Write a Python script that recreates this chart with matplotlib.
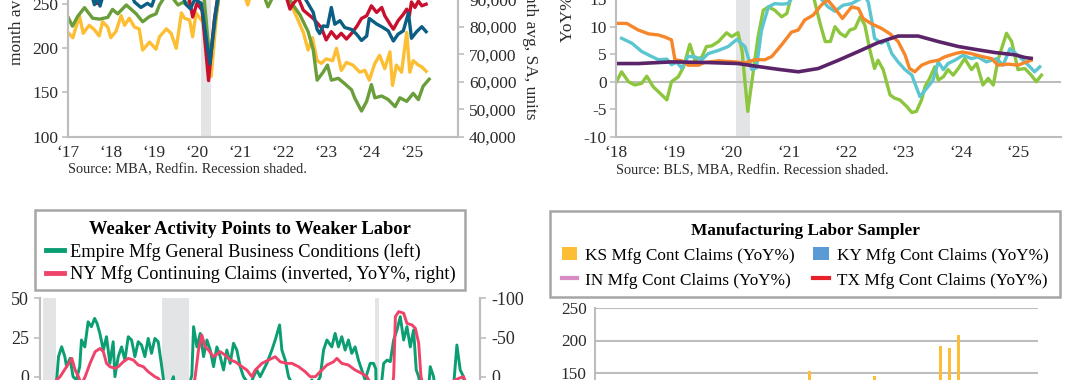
import numpy as np
import pandas as pd
import matplotlib
matplotlib.use("Agg")
import matplotlib.pyplot as plt
from matplotlib.patches import Rectangle
from matplotlib.ticker import FuncFormatter

plt.rcParams['font.family'] = ['Liberation Serif', 'DejaVu Serif']
plt.rcParams['axes.unicode_minus'] = False

W, H = 1080, 380
GRAY = '#BDBDBD'
TXT = '#2b2b2b'
SHADE = '#E3E4E6'

# ---------------- top left: MBA / Redfin (decimal years) ----------------
tl_green_t = [2017.00, 2017.11, 2017.23, 2017.39, 2017.58, 2017.74, 2017.93, 2018.04, 2018.16, 2018.36,
              2018.59, 2018.74, 2018.90, 2019.05, 2019.13, 2019.30, 2019.45, 2019.56, 2019.67, 2019.78,
              2019.90, 2020.05, 2020.17, 2020.30, 2020.45, 2020.60, 2020.80, 2021.00, 2021.20, 2021.40,
              2021.55, 2021.65, 2021.80, 2022.00, 2022.12, 2022.23, 2022.39, 2022.58, 2022.70, 2022.79,
              2022.93, 2023.03, 2023.12, 2023.28, 2023.43, 2023.59, 2023.66, 2023.82, 2023.94, 2024.05,
              2024.13, 2024.29, 2024.44, 2024.60, 2024.71, 2024.87, 2025.02, 2025.14, 2025.25, 2025.39]
tl_green_v = [236, 225, 236, 246, 234, 233, 235, 244, 239, 249,
              239, 230, 236, 239, 249, 262, 256, 249, 252, 249,
              262, 270, 255, 185, 240, 285, 300, 295, 280, 270,
              260, 247, 262, 268, 258, 249, 238, 219, 198, 164,
              173, 181, 164, 166, 160, 153, 144, 129, 140, 159,
              144, 146, 142, 134, 144, 140, 149, 142, 157, 165]

tl_yellow_t = [2017.02, 2017.12, 2017.27, 2017.36, 2017.50, 2017.62, 2017.73, 2017.81, 2017.93, 2018.00,
               2018.12, 2018.24, 2018.32, 2018.43, 2018.55, 2018.66, 2018.74, 2018.90, 2019.05, 2019.13,
               2019.29, 2019.40, 2019.52, 2019.64, 2019.71, 2019.83, 2019.90, 2019.98, 2020.10, 2020.20,
               2020.33, 2020.45, 2020.55, 2020.75, 2021.00, 2021.18, 2021.30, 2021.60, 2021.90, 2022.16,
               2022.31, 2022.47, 2022.58, 2022.68, 2022.79, 2022.89, 2023.00, 2023.15, 2023.24, 2023.35,
               2023.47, 2023.62, 2023.78, 2023.90, 2024.00, 2024.13, 2024.24, 2024.36, 2024.48, 2024.54,
               2024.63, 2024.75, 2024.87, 2024.94, 2025.02, 2025.14, 2025.22, 2025.32]
tl_yellow_v = [217, 212, 237, 217, 226, 221, 214, 230, 224, 212,
               219, 237, 226, 234, 224, 222, 198, 207, 199, 213,
               222, 217, 200, 240, 234, 232, 213, 240, 232, 228,
               168, 235, 275, 290, 275, 249, 270, 275, 268, 252,
               236, 218, 198, 212, 186, 183, 188, 186, 200, 175,
               184, 181, 173, 175, 164, 183, 192, 177, 196, 158,
               181, 173, 218, 173, 186, 181, 179, 174]

tl_red_t = [2017.00, 2017.40, 2017.60, 2017.68, 2017.78, 2018.20, 2018.80, 2019.40, 2019.80, 2019.90,
            2020.00, 2020.12, 2020.27, 2020.40, 2020.55, 2021.00, 2021.50, 2021.90, 2022.08, 2022.16,
            2022.23, 2022.35, 2022.47, 2022.70, 2022.89, 2023.00, 2023.12, 2023.24, 2023.35, 2023.47,
            2023.59, 2023.71, 2023.82, 2023.94, 2024.05, 2024.17, 2024.29, 2024.36, 2024.48, 2024.56,
            2024.67, 2024.79, 2024.87, 2024.93, 2024.98, 2025.06, 2025.14, 2025.22, 2025.32]
tl_red_v = [95000, 93000, 91000, 88400, 93500, 96000, 94000, 97000, 92000, 83500,
            88500, 86000, 60400, 82000, 98000, 102000, 99000, 93000, 90500, 86400,
            88300, 90500, 86000, 83000, 79600, 75200, 78200, 75800, 77600, 75500,
            77600, 80100, 83000, 84000, 87600, 85200, 87000, 84000, 81000, 79100,
            82200, 84500, 86400, 84000, 89000, 87000, 89300, 87600, 88200]

tl_blue_t = [2017.00, 2017.55, 2017.62, 2017.70, 2017.75, 2017.85, 2018.40, 2018.55, 2018.70, 2018.85,
             2018.95, 2019.05, 2019.60, 2019.75, 2019.85, 2019.95, 2020.10, 2020.30, 2020.42, 2020.55,
             2021.00, 2021.50, 2022.00, 2022.40, 2022.54, 2022.70, 2022.79, 2022.85, 2022.93, 2023.03,
             2023.12, 2023.20, 2023.32, 2023.43, 2023.59, 2023.71, 2023.82, 2023.94, 2024.00, 2024.17,
             2024.32, 2024.44, 2024.56, 2024.67, 2024.79, 2024.91, 2024.98, 2025.10, 2025.22, 2025.32]
tl_blue_v = [97000, 92000, 88000, 90500, 87500, 93000, 95000, 89000, 87000, 88500,
             87500, 92000, 94000, 88000, 86500, 90000, 88500, 66500, 84000, 97000,
             101000, 98000, 96000, 93000, 89500, 85200, 79000, 77500, 80300, 80000,
             87000, 80900, 82200, 79700, 79000, 77200, 75000, 76600, 83000, 81000,
             79700, 78500, 74800, 77300, 78500, 85000, 75800, 78200, 80000, 78200]

# ---------------- top right: YoY% ----------------
tr_orange_t = [2018.00, 2018.18, 2018.38, 2018.56, 2018.73, 2018.85, 2018.96, 2019.02, 2019.14, 2019.25,
               2019.43, 2019.54, 2019.78, 2020.07, 2020.24, 2020.41, 2020.59, 2020.71, 2020.88, 2021.05,
               2021.17, 2021.28, 2021.43, 2021.57, 2021.68, 2021.81, 2021.94, 2022.10, 2022.22, 2022.30,
               2022.45, 2022.62, 2022.77, 2022.91, 2023.03, 2023.11, 2023.20, 2023.32, 2023.46, 2023.61,
               2023.72, 2023.90, 2024.03, 2024.19, 2024.36, 2024.54, 2024.65, 2024.83, 2025.00, 2025.15,
               2025.23]
tr_orange_v = [10.6, 10.6, 9.4, 8.7, 8.5, 8.1, 7.6, 4.0, 3.8, 3.0,
               3.0, 3.5, 3.8, 3.6, 3.4, 4.0, 4.0, 4.6, 6.7, 9.0,
               9.4, 11.2, 12.1, 13.9, 14.9, 13.3, 11.5, 13.6, 13.3, 11.5,
               10.5, 9.7, 8.7, 7.3, 4.9, 2.4, 1.8, 3.0, 3.6, 3.9,
               4.5, 5.1, 5.4, 5.1, 4.6, 4.2, 3.0, 3.2, 3.0, 3.6,
               3.9]

tr_cyan_t = [2018.09, 2018.27, 2018.44, 2018.61, 2018.73, 2018.88, 2018.96, 2019.05, 2019.14, 2019.25,
             2019.37, 2019.49, 2019.60, 2019.78, 2019.95, 2020.10, 2020.24, 2020.36, 2020.44, 2020.53,
             2020.65, 2020.76, 2020.88, 2020.99, 2021.08, 2021.25, 2021.45, 2021.69, 2021.81, 2021.95,
             2022.10, 2022.33, 2022.39, 2022.45, 2022.50, 2022.62, 2022.71, 2022.80, 2022.91, 2023.03,
             2023.15, 2023.29, 2023.41, 2023.52, 2023.61, 2023.70, 2023.78, 2023.90, 2024.04, 2024.19,
             2024.30, 2024.45, 2024.63, 2024.74, 2024.86, 2025.00, 2025.18, 2025.29, 2025.38]
tr_cyan_v = [7.9, 7.0, 5.5, 4.6, 4.0, 4.1, 3.1, 3.5, 2.5, 4.6,
             4.5, 4.0, 5.1, 5.7, 6.4, 7.7, 6.4, 2.2, 2.5, 9.4,
             13.6, 14.2, 14.1, 14.2, 15.5, 17.0, 16.5, 13.6, 12.8, 13.9,
             14.2, 15.5, 14.5, 11.2, 7.9, 7.0, 7.6, 5.1, 3.6, 2.2,
             1.2, -2.7, -1.2, 0.3, 3.6, 2.2, 3.3, 3.9, 4.8, 4.2,
             4.5, 3.6, 4.2, 3.0, 6.0, 4.8, 3.0, 1.8, 2.7]

tr_green_t = [2018.00, 2018.09, 2018.21, 2018.32, 2018.44, 2018.53, 2018.64, 2018.76, 2018.88, 2018.96,
              2019.08, 2019.17, 2019.28, 2019.37, 2019.49, 2019.57, 2019.66, 2019.78, 2019.92, 2020.01,
              2020.12, 2020.19, 2020.29, 2020.39, 2020.47, 2020.56, 2020.65, 2020.76, 2020.88, 2020.97,
              2021.10, 2021.25, 2021.40, 2021.55, 2021.64, 2021.73, 2021.81, 2021.90, 2021.99, 2022.07,
              2022.16, 2022.25, 2022.33, 2022.42, 2022.50, 2022.56, 2022.65, 2022.77, 2022.85, 2022.94,
              2023.06, 2023.15, 2023.23, 2023.32, 2023.38, 2023.46, 2023.55, 2023.61, 2023.70, 2023.78,
              2023.87, 2023.96, 2024.07, 2024.19, 2024.28, 2024.39, 2024.48, 2024.57, 2024.65, 2024.80,
              2024.89, 2025.00, 2025.12, 2025.23, 2025.32, 2025.41]
tr_green_v = [0.0, 1.8, 0.0, -0.6, -0.3, 1.0, -0.9, -2.1, -3.3, 0.0,
              0.9, 2.7, 6.8, 3.9, 4.5, 6.4, 6.5, 7.3, 8.9, 8.2,
              8.9, 5.7, -5.4, 2.2, 8.2, 13.0, 13.6, 13.0, 11.8, 12.4,
              17.5, 19.0, 17.0, 10.6, 7.3, 7.3, 10.0, 8.8, 8.2, 9.4,
              9.7, 11.8, 10.3, 5.7, 2.4, 3.9, 2.2, -2.4, -3.0, -3.3,
              -4.5, -5.6, -5.4, -3.3, -0.9, 0.6, 2.7, 0.3, 0.9, 2.2,
              1.2, 2.4, 4.2, 2.2, 3.3, -0.6, 0.6, -0.6, 3.9, 8.8,
              7.3, 2.2, 2.4, 1.2, 0.0, 1.2]

tr_purple_t = [2018.00, 2018.38, 2018.96, 2019.54, 2020.12, 2020.41, 2020.82, 2021.17, 2021.52, 2021.87,
               2022.22, 2022.56, 2022.91, 2023.26, 2023.61, 2023.96, 2024.30, 2024.60, 2024.94, 2025.12,
               2025.23]
tr_purple_v = [3.3, 3.3, 3.6, 3.5, 3.3, 2.85, 2.25, 1.8, 2.4, 3.9,
               5.5, 7.1, 8.3, 8.3, 7.3, 6.4, 5.8, 5.3, 4.9, 4.4,
               4.25]

# ---------------- bottom left: Empire vs NY claims ----------------
bl_green_t = [2001.55, 2001.70, 2001.85, 2001.95, 2002.04, 2002.22, 2002.40, 2002.50, 2002.70, 2002.87,
              2003.06, 2003.25, 2003.35, 2003.54, 2003.73, 2003.92, 2004.10, 2004.24, 2004.40, 2004.60,
              2004.78, 2004.97, 2005.16, 2005.26, 2005.45, 2005.64, 2005.83, 2006.02, 2006.21, 2006.40,
              2006.59, 2006.78, 2006.97, 2007.16, 2007.35, 2007.54, 2007.73, 2007.92, 2008.01, 2008.20,
              2008.45, 2008.60, 2008.80, 2009.00, 2009.20, 2009.45, 2009.65, 2009.75, 2009.94, 2010.13,
              2010.32, 2010.51, 2010.70, 2010.89, 2011.08, 2011.27, 2011.46, 2011.65, 2011.84, 2012.03,
              2012.22, 2012.41, 2012.60, 2012.79, 2013.00, 2013.17, 2013.36, 2013.55, 2013.93, 2014.22,
              2014.41, 2014.66, 2014.79, 2014.98, 2015.17, 2015.40, 2015.70, 2016.00, 2016.30, 2016.50,
              2016.70, 2016.98, 2017.17, 2017.36, 2017.64, 2017.83, 2018.02, 2018.21, 2018.40, 2018.59,
              2018.78, 2018.97, 2019.16, 2019.35, 2019.54, 2019.83, 2020.02, 2020.15, 2020.28, 2020.40,
              2020.50, 2020.60, 2020.80, 2020.98, 2021.17, 2021.36, 2021.55, 2021.74, 2021.93, 2022.12,
              2022.31, 2022.46, 2022.60, 2022.80, 2023.00, 2023.15, 2023.26, 2023.45, 2023.60, 2023.90,
              2024.10, 2024.30, 2024.60, 2024.78, 2024.97, 2025.16, 2025.25]
bl_green_v = [-3, -15, -8, 0, 12.8, 19.1, 12.8, 6.4, 11.7, 0,
              -2, 6.4, 23.4, 19, 35, 31.9, 37.2, 34, 27.6, 17,
              25.5, 8.5, 22.3, 0, 12.8, 19, 10.6, 25.5, 23.4, 12.8,
              22.3, 20.2, 12.8, 24.4, 14.9, 24.4, 22.3, 7.4, 0, -20,
              -5, 0, -25, -35, -30, -8, 1, 31.9, 19, 27.6,
              12.8, 23.4, 17, 6.4, 19, 12.8, 4.3, 17, 8.5, 21.3,
              17, 6.4, 0, -3, -5, 0, 4.3, 0, 8.5, 17,
              23.4, 33, 17, 10.6, 0, -5, -12, -18, -5, -2,
              -6, 0, 17, 23.4, 19, 27.6, 19, 25.5, 17, 23.4,
              14.9, 19, 10.6, 4.3, -2, 8.5, 8.5, 5, -75, -45,
              -2, 8.5, 10.6, 9.6, 23.4, 29.8, 38.3, 23.4, 31.9, 19,
              29.8, 4.3, 0, -15, -30, -10, 6.4, 0, -15, -20,
              -40, -15, -5, 20.2, 4.3, 0, -20]

bl_red_t = [2001.90, 2002.13, 2002.50, 2002.80, 2002.99, 2003.18, 2003.35, 2003.56, 2003.84, 2004.13,
            2004.41, 2004.60, 2004.78, 2004.97, 2005.26, 2005.45, 2005.74, 2006.02, 2006.31, 2006.59,
            2006.88, 2007.16, 2007.54, 2007.73, 2008.00, 2008.50, 2008.90, 2009.20, 2009.50, 2009.70,
            2009.84, 2010.03, 2010.22, 2010.41, 2010.60, 2010.89, 2011.27, 2011.55, 2011.84, 2012.13,
            2012.51, 2012.79, 2013.08, 2013.27, 2013.65, 2014.03, 2014.41, 2014.70, 2015.08, 2015.36,
            2015.74, 2016.12, 2016.41, 2016.70, 2016.98, 2017.36, 2017.74, 2017.93, 2018.21, 2018.59,
            2018.97, 2019.35, 2019.64, 2019.90, 2020.20, 2020.35, 2020.60, 2020.90, 2021.10, 2021.17,
            2021.27, 2021.46, 2021.74, 2021.93, 2022.22, 2022.41, 2022.60, 2022.73, 2022.90, 2023.30,
            2023.80, 2024.20, 2024.60, 2024.90, 2025.16, 2025.30]
bl_red_v = [5, 0, -12.8, -23.4, -8.5, 0, 10, 0, -17, -31.9,
            -36, -31.9, -17, -12.8, -10.6, -12.8, -19, -23.4, -21.3, -14.9,
            -12.8, -6.4, 0, 2, 10, 25, 70, 110, 80, 20,
            0, -34, -53.2, -38.3, -34, -25.5, -31.9, -27.6, -21.3, -19,
            -12.8, -8.5, 0, -8.5, -17, -21.3, -25.5, -19, -17, -17,
            -12.8, -6.4, 0, 0, -6.4, -14.9, -19, -23.4, -17, -14.9,
            -8.5, -4.3, 0, 10, 20, 250, 180, 80, 10, 0,
            -76.6, -83, -81, -68, -66, -61.7, -42.6, 0, 15, 30,
            20, 25, 5, 2, 0, 8]

bl_recessions = [(2001.17, 2001.92), (2007.92, 2009.50), (2020.08, 2020.33)]

# ---------------- bottom right: manufacturing claims sampler (monthly, Sep 2021 on) ----------------
br_months = pd.date_range("2021-09-01", "2025-04-01", freq="MS")
br_ks = [-45, -52, -48, -40, -30, -25, -20, -10, 5, 12,
         20, 35, 40, 55, 48, 60, 75, 90, 110, 95,
         120, 130, 115, 152, 98, 85, 70, 60, 88, 105,
         145, 80, 60, 45, 70, 90, 110, 192, 189, 208,
         60, 40, 25, 10]
br_ky = [-30, -35, -28, -20, -25, -15, -10, -5, 0, 8,
         15, 10, 20, 25, 18, 30, 22, 35, 28, 40,
         32, 25, 38, 45, 30, 20, 28, 35, 40, 30,
         25, 18, 22, 30, 26, 35, 40, 45, 38, 30,
         25, 20, 28, 22]
br_in = [-20, -25, -22, -18, -15, -10, -8, -5, 0, 5,
         8, 12, 10, 15, 18, 20, 25, 22, 28, 30,
         26, 24, 30, 35, 32, 28, 25, 22, 20, 24,
         28, 30, 26, 22, 25, 30, 35, 40, 38, 32,
         28, 25, 22, 20]
br_tx = [-40, -38, -35, -30, -28, -25, -20, -15, -10, -8,
         -5, 0, 5, 8, 10, 12, 15, 18, 16, 20,
         22, 18, 15, 20, 25, 22, 18, 15, 12, 15,
         18, 20, 22, 18, 15, 12, 10, 14, 16, 12,
         10, 8, 12, 15]


def box(x0, x1, ytop, ybot):
    return [x0 / W, (H - ybot) / H, (x1 - x0) / W, (ybot - ytop) / H]


def style_spines(ax, show):
    for side, sp in ax.spines.items():
        sp.set_visible(side in show)
        sp.set_color(GRAY)
        sp.set_linewidth(1.5)


def legend_frame(x0, x1, ytop, ybot):
    # white box with grey border behind a frameless legend
    b = box(x0, x1, ytop, ybot)
    fig.patches.append(Rectangle((b[0], b[1]), b[2], b[3], transform=fig.transFigure,
                                 facecolor='white', edgecolor='#A6A6A6', lw=1.8, zorder=5))


fig = plt.figure(figsize=(W / 100, H / 100), dpi=100)

yr_ticks = list(range(2017, 2026))
yr_fmt = FuncFormatter(lambda v, p: '\u2018%02d' % (int(round(v)) % 100))

# ---- top left ----
ax1 = fig.add_axes(box(67.7, 458, -40.1, 136.7))
ax1.set_xlim(2017.0, 2026.06)
ax1.set_ylim(100, 300)
ax1.axvspan(2020.083, 2020.333, color=SHADE, lw=0, zorder=0)
ax1.plot(tl_yellow_t, tl_yellow_v, color='#FDBE34', lw=2.4)
ax1.plot(tl_green_t, tl_green_v, color='#6A9E3A', lw=2.4)
ax1r = ax1.twinx()
ax1r.set_ylim(40000, 104300)
ax1r.plot(tl_red_t, tl_red_v, color='#C8102E', lw=2.4)
ax1r.plot(tl_blue_t, tl_blue_v, color='#0B5E84', lw=2.4)
ax1.set_yticks([100, 150, 200, 250, 300])
ax1r.set_yticks(range(40000, 100001, 10000))
ax1r.yaxis.set_major_formatter(FuncFormatter(lambda v, p: f'{int(v):,}'))
ax1.set_xticks(yr_ticks)
ax1.xaxis.set_major_formatter(yr_fmt)
for a in (ax1, ax1r):
    style_spines(a, ('left', 'bottom', 'right'))
    a.tick_params(axis='y', length=4, width=1.2, color=GRAY, labelsize=12.5, labelcolor=TXT, pad=2.5)
    a.tick_params(axis='x', length=0, labelsize=12.5, labelcolor=TXT, pad=6)
ax1r.tick_params(axis='y', pad=4)
fig.text(17.5 / W, 1 - 65 / H, 'month avg, SA, index', rotation=90, ha='center', va='bottom',
         fontsize=12.5, color=TXT)
fig.text(530 / W, 1 - 120 / H, 'Pending home sales, 3-month avg, SA, units', rotation=270,
         ha='center', va='bottom', fontsize=12.5, color=TXT)
fig.text(68 / W, 1 - 170 / H, 'Source: MBA, Redfin. Recession shaded.', ha='left', va='center',
         fontsize=10.4, color=TXT)

# ---- top right ----
ax2 = fig.add_axes(box(616.4, 1061, 81.7 - 20 * 5.5, 136.7))
ax2.set_xlim(2018.0, 2025.75)
ax2.set_ylim(-10, 20)
ax2.axvspan(2020.083, 2020.333, color=SHADE, lw=0, zorder=0)
ax2.axhline(0, color=GRAY, lw=1.5, zorder=1)
ax2.plot(tr_green_t, tr_green_v, color='#8CC63E', lw=2.4)
ax2.plot(tr_cyan_t, tr_cyan_v, color='#5CC6D0', lw=2.4)
ax2.plot(tr_orange_t, tr_orange_v, color='#F7862A', lw=2.4)
ax2.plot(tr_purple_t, tr_purple_v, color='#5B2468', lw=2.6)
ax2.set_yticks([-10, -5, 0, 5, 10, 15, 20])
ax2.set_xticks(list(range(2018, 2026)))
ax2.xaxis.set_major_formatter(yr_fmt)
style_spines(ax2, ('left', 'bottom'))
ax2.tick_params(axis='y', length=4, width=1.2, color=GRAY, labelsize=12.5, labelcolor=TXT, pad=3)
ax2.tick_params(axis='x', length=0, labelsize=12.5, labelcolor=TXT, pad=6)
fig.text(568 / W, 1 - 42 / H, 'YoY%, 3-month avg', rotation=90, ha='center', va='bottom',
         fontsize=12.5, color=TXT)
fig.text(616 / W, 1 - 171 / H, 'Source: BLS, MBA, Redfin. Recession shaded.', ha='left',
         va='center', fontsize=10.4, color=TXT)

# ---- bottom left ----
ax3 = fig.add_axes(box(40.3, 480, 298.3, 533.5))
ax3.set_xlim(2001.0, 2026.1)
ax3.set_ylim(-100, 50)
for s, e in bl_recessions:
    ax3.axvspan(s, e, color=SHADE, lw=0, zorder=0)
g3, = ax3.plot(bl_green_t, bl_green_v, color='#0A9E72', lw=2.1)
ax3r = ax3.twinx()
ax3r.set_ylim(200, -100)
r3, = ax3r.plot(bl_red_t, bl_red_v, color='#F0436A', lw=2.1)
ax3.set_yticks([-100, -75, -50, -25, 0, 25, 50])
ax3r.set_yticks([200, 150, 100, 50, 0, -50, -100])
for a in (ax3, ax3r):
    style_spines(a, ('left', 'right', 'bottom'))
    a.tick_params(axis='y', length=4, width=1.2, color=GRAY, labelsize=13, labelcolor=TXT, pad=4)
ax3.set_xticks([])
legend_frame(35, 465, 210, 290)
leg3 = fig.legend([g3, r3], ['Empire Mfg General Business Conditions (left)',
                             'NY Mfg Continuing Claims (inverted, YoY%, right)'],
                  loc='upper left', bbox_to_anchor=(35 / W, 1 - 290 / H, 430 / W, 80 / H),
                  mode='expand', borderaxespad=0, fontsize=13.2, handlelength=1.0,
                  handletextpad=0.3, labelspacing=0.25, borderpad=0.6,
                  title='Weaker Activity Points to Weaker Labor',
                  title_fontproperties={'weight': 'bold', 'size': 13.3}, frameon=False)
leg3.set_zorder(6)
for ln in leg3.get_lines():
    ln.set_linewidth(3.5)

# ---- bottom right ----
xi = np.arange(len(br_months))
ax4 = fig.add_axes(box(595, 1038, 308.3, 533.7))
ax4.set_xlim(-0.27, 47.36)
ax4.set_ylim(-100, 250)
ks_b = ax4.bar(xi - 0.17, br_ks, width=0.32, color='#FDBE35', lw=0)
ky_b = ax4.bar(xi + 0.17, br_ky, width=0.32, color='#5B9BD5', lw=0)
in_l, = ax4.plot(xi, br_in, color='#D98BC6', lw=2)
tx_l, = ax4.plot(xi, br_tx, color='#E8202A', lw=2)
ax4.set_yticks(range(-100, 251, 50))
ax4.set_axisbelow(True)
ax4.yaxis.grid(True, color=GRAY, lw=1.5)
style_spines(ax4, ('left',))
ax4.tick_params(axis='y', length=0, labelsize=12.4, labelcolor=TXT, pad=6)
ax4.set_xticks([])
legend_frame(550, 1060, 211, 297)
leg4 = fig.legend([ks_b, in_l, ky_b, tx_l],
                  ['KS Mfg Cont Claims (YoY%)', 'IN Mfg Cont Claims (YoY%)',
                   'KY Mfg Cont Claims (YoY%)', 'TX Mfg Cont Claims (YoY%)'],
                  ncol=2, loc='upper left', bbox_to_anchor=(550 / W, 1 - 297 / H, 510 / W, 86 / H),
                  mode='expand', borderaxespad=0, fontsize=12.4, handlelength=0.9,
                  handleheight=0.75, handletextpad=0.45, labelspacing=0.5, borderpad=0.68,
                  columnspacing=1.0, title='Manufacturing Labor Sampler',
                  title_fontproperties={'weight': 'bold', 'size': 12.4}, frameon=False)
leg4.set_zorder(6)
for ln in leg4.get_lines():
    ln.set_linewidth(3)

fig.savefig('out.png', dpi=100)
